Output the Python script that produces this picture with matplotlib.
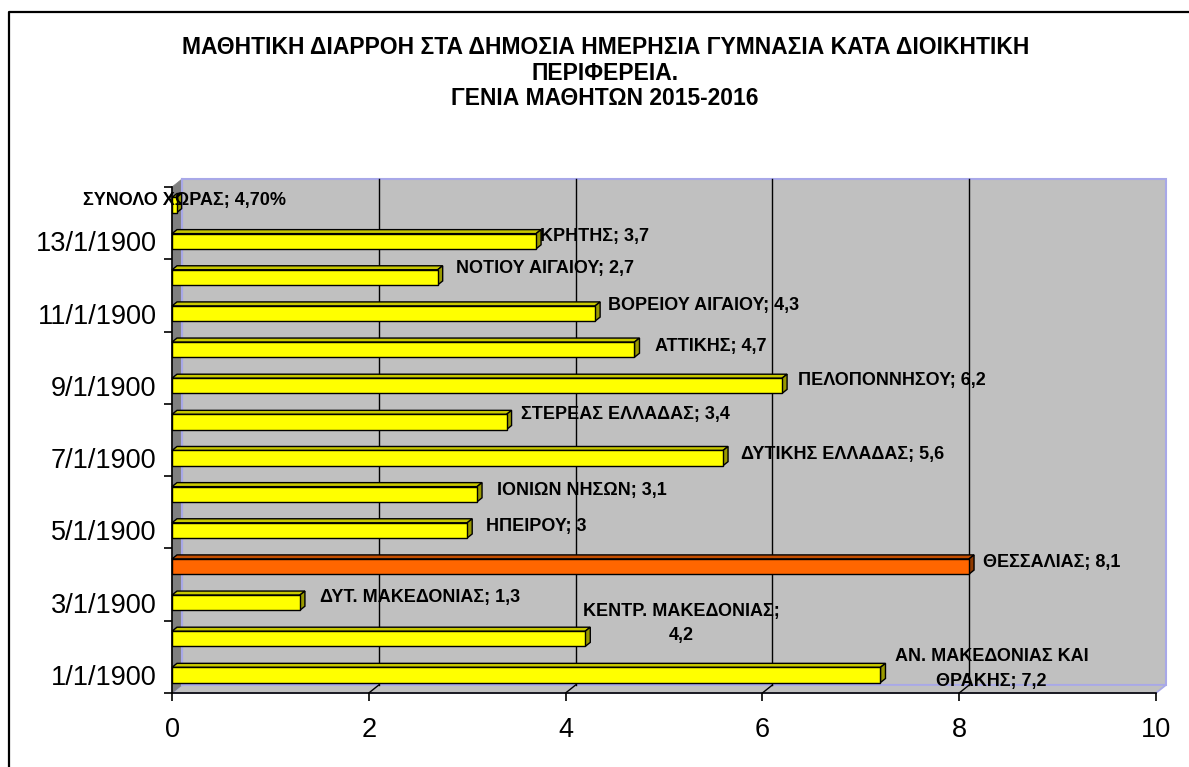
import matplotlib
matplotlib.use('Agg')
import matplotlib.pyplot as plt
from matplotlib.patches import Polygon
from matplotlib.lines import Line2D

# ---------------- data ----------------
regions = ['ΑΝ. ΜΑΚΕΔΟΝΙΑΣ ΚΑΙ\nΘΡΑΚΗΣ', 'ΚΕΝΤΡ. ΜΑΚΕΔΟΝΙΑΣ', 'ΔΥΤ. ΜΑΚΕΔΟΝΙΑΣ',
           'ΘΕΣΣΑΛΙΑΣ', 'ΗΠΕΙΡΟΥ', 'ΙΟΝΙΩΝ ΝΗΣΩΝ', 'ΔΥΤΙΚΗΣ ΕΛΛΑΔΑΣ',
           'ΣΤΕΡΕΑΣ ΕΛΛΑΔΑΣ', 'ΠΕΛΟΠΟΝΝΗΣΟΥ', 'ΑΤΤΙΚΗΣ', 'ΒΟΡΕΙΟΥ ΑΙΓΑΙΟΥ',
           'ΝΟΤΙΟΥ ΑΙΓΑΙΟΥ', 'ΚΡΗΤΗΣ', 'ΣΥΝΟΛΟ ΧΩΡΑΣ']
values = [7.2, 4.2, 1.3, 8.1, 3.0, 3.1, 5.6, 3.4, 6.2, 4.7, 4.3, 2.7, 3.7, 0.047]
value_texts = ['7,2', '4,2', '1,3', '8,1', '3', '3,1', '5,6', '3,4', '6,2',
               '4,7', '4,3', '2,7', '3,7', '4,70%']
label_seps = ['; ', ';\n', '; ', '; ', '; ', '; ', '; ', '; ', '; ', '; ', '; ',
              '; ', '; ', '; ']
ytick_labels = ['1/1/1900', '3/1/1900', '5/1/1900', '7/1/1900', '9/1/1900',
                '11/1/1900', '13/1/1900']
xticks = [0, 2, 4, 6, 8, 10]
title = ('ΜΑΘΗΤΙΚΗ ΔΙΑΡΡΟΗ ΣΤΑ ΔΗΜΟΣΙΑ ΗΜΕΡΗΣΙΑ ΓΥΜΝΑΣΙΑ ΚΑΤΑ ΔΙΟΙΚΗΤΙΚΗ\n'
         'ΠΕΡΙΦΕΡΕΙΑ.\nΓΕΝΙΑ ΜΑΘΗΤΩΝ 2015-2016')
highlight = 'ΘΕΣΣΑΛΙΑΣ'

# label placement (pixel offsets from bar end, horizontal alignment)
label_place = [(111, 6, 'center'), (96, 15, 'center'), (20, 5, 'left'),
               (14, 4, 'left'), (19, 4, 'left'), (20, 4, 'left'),
               (18, 4, 'left'), (14, 7, 'left'), (16, 5, 'left'),
               (21, 3, 'left'), (13, 8, 'left'), (18, 9, 'left'),
               (4, 5, 'left'), (8, 5, 'center')]

# ---------------- figure ----------------
W, H = 1189, 767
fig = plt.figure(figsize=(W / 100, H / 100), dpi=100)
fig.patch.set_facecolor('white')
plt.rcParams['font.family'] = ['Liberation Sans', 'DejaVu Sans']

x0, x1, ytop, ybot = 172, 1156, 187, 693
ax = fig.add_axes([x0 / W, 1 - ybot / H, (x1 - x0) / W, (ybot - ytop) / H])
ax.patch.set_visible(False)
n = len(values)
ax.set_xlim(0, 10)
ax.set_ylim(0, n)

pxx = (x1 - x0) / 10.0
pxy = (ybot - ytop) / n
wdx, wdy = 10 / pxx, 8 / pxy      # wall depth in data units
bdx, bdy = 5 / pxx, 4 / pxy       # bar depth in data units

wall_c = '#C0C0C0'
edge_c = '#A8A8E8'
# back wall
ax.add_patch(Polygon([(wdx, wdy), (10 + wdx, wdy), (10 + wdx, n + wdy), (wdx, n + wdy)],
                     closed=True, fc=wall_c, ec=edge_c, lw=1.5, clip_on=False, zorder=0))
# floor
ax.add_patch(Polygon([(0, 0), (10, 0), (10 + wdx, wdy), (wdx, wdy)],
                     closed=True, fc=wall_c, ec=edge_c, lw=1.2, clip_on=False, zorder=0.5))
# left wall
ax.add_patch(Polygon([(0, 0), (wdx, wdy), (wdx, n + wdy), (0, n)],
                     closed=True, fc='#808080', ec='#808080', lw=0.5, clip_on=False, zorder=0.5))
ax.plot([wdx, wdx], [wdy, n + wdy], color=edge_c, lw=1.5, clip_on=False, zorder=0.6)

# gridlines on back wall and floor
for xv in xticks[1:-1]:
    ax.plot([xv + wdx, xv + wdx], [wdy, n + wdy], color='black', lw=1.0,
            clip_on=False, zorder=1)
    ax.plot([xv, xv + wdx], [0, wdy], color='black', lw=1.0, clip_on=False, zorder=1)

# bars
bh = 0.42
for i, (name, v) in enumerate(zip(regions, values)):
    yc = i + 0.5
    if name == highlight:
        fc, tc, sc = '#FF6600', '#C44E00', '#8F3A00'
    else:
        fc, tc, sc = '#FFFF00', '#C8C800', '#9A9A00'
    yb, yt = yc - bh / 2, yc + bh / 2
    ax.add_patch(Polygon([(0, yt), (v, yt), (v + bdx, yt + bdy), (bdx, yt + bdy)],
                         closed=True, fc=tc, ec='black', lw=1.0, clip_on=False, zorder=3))
    ax.add_patch(Polygon([(v, yb), (v + bdx, yb + bdy), (v + bdx, yt + bdy), (v, yt)],
                         closed=True, fc=sc, ec='black', lw=1.0, clip_on=False, zorder=3))
    ax.add_patch(Polygon([(0, yb), (v, yb), (v, yt), (0, yt)],
                         closed=True, fc=fc, ec='black', lw=1.0, clip_on=False, zorder=4))
    dx, dy, ha = label_place[i]
    txt = name + label_seps[i] + value_texts[i]
    ax.annotate(txt, xy=(v, yc), xytext=(dx, dy), textcoords='offset pixels',
                ha=ha, va='center', multialignment='center', fontsize=13,
                fontweight='bold', color='black', linespacing=1.55, zorder=6,
                annotation_clip=False)

# axes / ticks
for s in ['top', 'right']:
    ax.spines[s].set_visible(False)
for s in ['left', 'bottom']:
    ax.spines[s].set_color('black')
    ax.spines[s].set_linewidth(1.2)
    ax.spines[s].set_zorder(5)

ax.set_xticks(xticks)
ax.set_xticklabels([str(t) for t in xticks])
ax.tick_params(axis='x', which='major', direction='out', length=6, width=1.2,
               labelsize=19.5, pad=11, colors='black')
ax.set_yticks(range(0, n + 1, 2))
ax.set_yticklabels([])
ax.set_yticks([i + 0.5 for i in range(0, 13, 2)], minor=True)
ax.set_yticklabels(ytick_labels, minor=True)
ax.tick_params(axis='y', which='major', direction='out', length=6, width=1.2)
ax.tick_params(axis='y', which='minor', length=0, labelsize=19.5, pad=11)

# title
fig.text(0.509, 1 - 73 / H, title, ha='center', va='center', multialignment='center',
         fontsize=16.5, fontweight='bold', linespacing=1.14)

# chart border
fig.add_artist(Line2D([9 / W, 9 / W, 1.0], [0.0, 1 - 12 / H, 1 - 12 / H],
                      transform=fig.transFigure, color='black', lw=1.6))

fig.savefig('out.png', dpi=100)
